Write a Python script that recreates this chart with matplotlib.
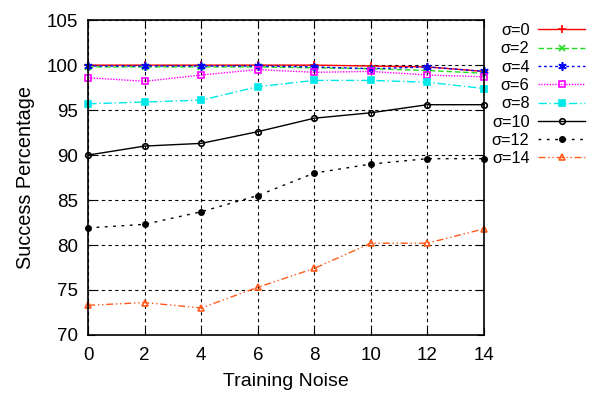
import numpy as np
import matplotlib
matplotlib.use("Agg")
import matplotlib.pyplot as plt

plt.rcParams["font.family"] = ["Liberation Sans", "DejaVu Sans"]

# Données
noise = [0, 2, 4, 6, 8, 10, 12, 14]
s0 = [100.0, 100.0, 100.0, 100.0, 100.0, 99.9, 99.8, 99.3]
s2 = [99.8, 99.8, 99.8, 99.8, 99.7, 99.6, 99.4, 99.1]
s4 = [99.9, 99.9, 99.9, 99.9, 99.8, 99.6, 99.8, 99.3]
s6 = [98.6, 98.2, 98.9, 99.5, 99.2, 99.3, 98.9, 98.7]
s8 = [95.7, 95.9, 96.1, 97.6, 98.3, 98.3, 98.1, 97.4]
s10 = [90.0, 91.0, 91.3, 92.6, 94.1, 94.7, 95.6, 95.6]
s12 = [81.9, 82.3, 83.7, 85.5, 88.0, 89.0, 89.6, 89.6]
s14 = [73.3, 73.6, 73.0, 75.3, 77.4, 80.2, 80.2, 81.8]
labels = ["σ=0", "σ=2", "σ=4", "σ=6", "σ=8", "σ=10", "σ=12", "σ=14"]
series = [s0, s2, s4, s6, s8, s10, s12, s14]

styles = [
    dict(color="#ff0000", ls="-", marker="+", ms=6, mfc="none"),
    dict(color="#22dd22", ls=(0, (4, 2)), marker="x", ms=4.5, mfc="none"),
    dict(color="#0000ff", ls=(0, (2, 2)), marker=(6, 2, 0), ms=6, mfc="#0000ff"),
    dict(color="#ff00ff", ls=(0, (1, 1)), marker="s", ms=4.5, mfc="none"),
    dict(color="#00e8e8", ls=(0, (6, 2, 1, 2)), marker="s", ms=4.5, mfc="#00e8e8"),
    dict(color="black", ls="-", marker="o", ms=4, mfc="none"),
    dict(color="black", ls=(0, (2, 4)), marker="o", ms=3.8, mfc="black"),
    dict(color="#ff5a1a", ls=(0, (5, 2, 1, 2, 1, 2)), marker="^", ms=4.5, mfc="none"),
]

fig = plt.figure(figsize=(5.96, 3.95), dpi=100)
ax = fig.add_axes([0.148, 0.152, 0.664, 0.797])

for y, lab, st in zip(series, labels, styles):
    ax.plot(noise, y, label=lab, lw=1.0, mew=1.2, clip_on=False, **st)

ax.set_xlim(0, 14)
ax.set_ylim(70, 105)
ax.set_xticks(noise)
ax.set_yticks(np.arange(70, 106, 5))
ax.grid(True, color="black", ls=(0, (3, 3)), lw=0.8)
ax.tick_params(direction="in", top=True, right=True, length=5, labelsize=13.5)
ax.tick_params(axis="x", pad=9)
ax.tick_params(axis="y", pad=7)
for sp in ax.spines.values():
    sp.set_linewidth(1.2)
ax.set_xlabel("Training Noise", fontsize=14, labelpad=6)
ax.set_ylabel("Success Percentage", fontsize=14.3, labelpad=9)

fig.legend(loc="upper right", bbox_to_anchor=(0.993, 0.958), frameon=False,
           markerfirst=False, fontsize=11.8, labelspacing=0.2, handlelength=2.9,
           handletextpad=0.5, borderaxespad=0)

fig.savefig("out.png", dpi=100)
